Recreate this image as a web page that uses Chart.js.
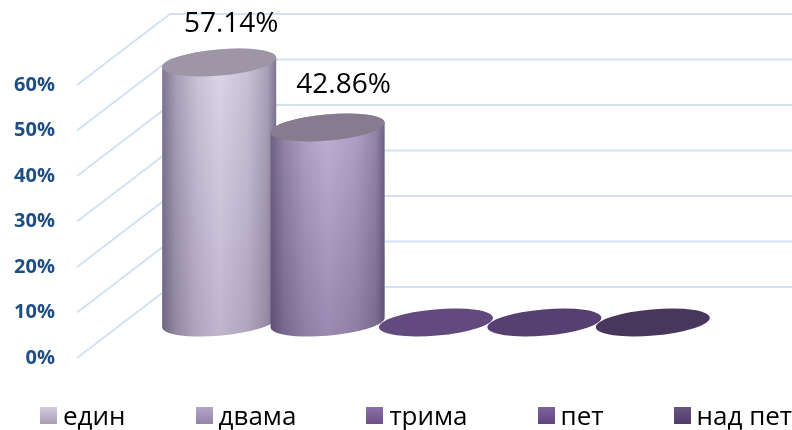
<!DOCTYPE html>
<html lang="bg">
<head>
<meta charset="utf-8">
<title>Chart</title>
<style>
  html, body { margin: 0; padding: 0; background: #fff; }
  #wrap { position: relative; width: 792px; height: 430px; overflow: hidden; }
  #legend { position: absolute; left: 40px; top: 397px; display: flex; gap: 70px; white-space: nowrap;
    font: 26px/36px "Open Sans", sans-serif; color: #000; }
  #legend span { display: flex; align-items: center; }
  #legend i { width: 17px; height: 17px; margin-right: 6px; }
</style>
<script src="https://cdn.jsdelivr.net/npm/chart.js@4"></script>
</head>
<body>
<div id="wrap">
  <canvas id="chart" width="792" height="430"></canvas>
  <div id="legend"></div>
</div>
<script>
const categories = ['един', 'двама', 'трима', 'пет', 'над пет'];
const values = [57.14, 42.86, 0, 0, 0];
const yTicks = [0, 10, 20, 30, 40, 50, 60];

// colours per category: lit top of side, bottom of side, lid
const sideTop = ['#dbd5e8', '#bfaed4', '#8b6fa8', '#7f639f', '#6a5580'];
const sideBottom = ['#bfb5cd', '#9c89b1', '#6d5088', '#5f4480', '#503a6c'];
const lid = ['#9e96a6', '#877b90', '#624a7f', '#564071', '#49365c'];
const swatchTop = ['#d2cadf', '#b4a5c8', '#8b6fa8', '#7f639f', '#6a5580'];
const swatchBottom = ['#a89fb3', '#9484a8', '#6d5088', '#5f4480', '#503a6c'];

/* ---------- 3D look ---------- */
const WALL_LEFT = 77;
const DEPTH_X = 93;
const DEPTH_Y = 71;
const RX = 57.2, RY = 13.1, TILT = -5 * Math.PI / 180;
const T0 = Math.atan2(-RY * Math.sin(TILT), RX * Math.cos(TILT));
// value labels sit a little off the cylinder axis in the original
const labelDx = [12, 16];
const labelDy = [31, 34];

const walls = {
  id: 'walls',
  beforeDatasetsDraw(chart) {
    const { ctx, scales: { y }, width } = chart;
    ctx.save();
    ctx.strokeStyle = '#d2e1f3';
    ctx.lineWidth = 2;
    yTicks.forEach((v) => {
      const py = y.getPixelForValue(v);
      ctx.beginPath();
      ctx.moveTo(WALL_LEFT, py);
      ctx.lineTo(WALL_LEFT + DEPTH_X, py - DEPTH_Y);
      ctx.lineTo(width, py - DEPTH_Y);
      ctx.stroke();
    });
    ctx.restore();
  },
};

const cylinders = {
  id: 'cylinders',
  afterDatasetsDraw(chart) {
    const { ctx } = chart;
    const bars = chart.getDatasetMeta(0).data;
    ctx.save();
    bars.forEach((bar, i) => {
      const cx = bar.x;
      const base = bar.base - DEPTH_Y / 2;
      const top = bar.y - DEPTH_Y / 2;
      if (values[i] > 0) {
        const body = new Path2D();
        body.ellipse(cx, base, RX, RY, TILT, T0, T0 + Math.PI);
        body.ellipse(cx, top, RX, RY, TILT, T0 + Math.PI, T0 + 2 * Math.PI);
        body.closePath();
        const v = ctx.createLinearGradient(0, top, 0, base + RY);
        v.addColorStop(0, sideTop[i]);
        v.addColorStop(1, sideBottom[i]);
        ctx.fillStyle = v;
        ctx.fill(body);
        const h = ctx.createLinearGradient(cx - RX, 0, cx + RX, 0);
        h.addColorStop(0, 'rgba(30,20,50,0.5)');
        h.addColorStop(0.12, 'rgba(30,20,50,0.28)');
        h.addColorStop(0.3, 'rgba(30,20,50,0.1)');
        h.addColorStop(0.5, 'rgba(30,20,50,0)');
        h.addColorStop(0.75, 'rgba(30,20,50,0.1)');
        h.addColorStop(0.92, 'rgba(30,20,50,0.27)');
        h.addColorStop(1, 'rgba(30,20,50,0.5)');
        ctx.fillStyle = h;
        ctx.fill(body);
      }
      ctx.fillStyle = lid[i];
      ctx.beginPath();
      ctx.ellipse(cx, top, RX, RY, TILT, 0, 2 * Math.PI);
      ctx.fill();
      if (values[i] > 0) {
        ctx.fillStyle = '#000';
        ctx.font = '28px "Open Sans", sans-serif';
        ctx.textAlign = 'center';
        ctx.textBaseline = 'alphabetic';
        ctx.fillText(values[i].toFixed(2) + '%', cx + labelDx[i], top - labelDy[i]);
      }
    });
    ctx.restore();
  },
};

new Chart(document.getElementById('chart'), {
  type: 'bar',
  data: {
    labels: categories,
    datasets: [{ data: values, backgroundColor: 'transparent', barThickness: 114 }],
  },
  options: {
    responsive: false,
    animation: false,
    layout: { padding: { top: 85, right: 85, bottom: 72, left: 0 } },
    plugins: { legend: { display: false }, tooltip: { enabled: false } },
    scales: {
      x: { display: false },
      y: {
        min: 0,
        max: 60,
        afterFit(s) {
          // labels sit far left of the plot, keep that gap out of the vertical padding
          s.width = 165;
          s.paddingTop = 0;
          s.paddingBottom = 0;
        },
        afterBuildTicks(s) { s.ticks = yTicks.map((value) => ({ value })); },
        grid: { display: false },
        border: { display: false },
        ticks: {
          padding: 102,
          color: '#1f4e84',
          font: { family: '"Open Sans", sans-serif', size: 20, weight: 'bold' },
          callback: (v) => v + '%',
        },
      },
    },
  },
  plugins: [walls, cylinders],
});

/* ---------- Legend ---------- */
document.getElementById('legend').innerHTML = categories
  .map((c, i) => `<span><i style="background:linear-gradient(${swatchTop[i]},${swatchBottom[i]})"></i>${c}</span>`)
  .join('');
</script>
</body>
</html>
